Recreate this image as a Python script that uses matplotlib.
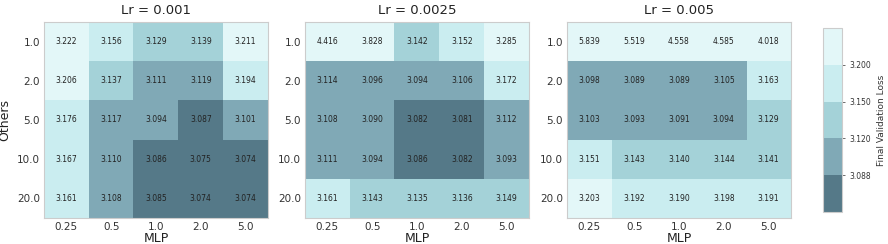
import numpy as np
import matplotlib
matplotlib.use('Agg')
import matplotlib.pyplot as plt
from matplotlib.colors import ListedColormap, BoundaryNorm

mlp_ratios = ['0.25', '0.5', '1.0', '2.0', '5.0']
other_ratios = ['1.0', '2.0', '5.0', '10.0', '20.0']
lrs = ['0.001', '0.0025', '0.005']

loss_lr_0001 = [
    [3.222, 3.156, 3.129, 3.139, 3.211],
    [3.206, 3.137, 3.111, 3.119, 3.194],
    [3.176, 3.117, 3.094, 3.087, 3.101],
    [3.167, 3.110, 3.086, 3.075, 3.074],
    [3.161, 3.108, 3.085, 3.074, 3.074],
]
loss_lr_00025 = [
    [4.416, 3.828, 3.142, 3.152, 3.285],
    [3.114, 3.096, 3.094, 3.106, 3.172],
    [3.108, 3.090, 3.082, 3.081, 3.112],
    [3.111, 3.094, 3.086, 3.082, 3.093],
    [3.161, 3.143, 3.135, 3.136, 3.149],
]
loss_lr_0005 = [
    [5.839, 5.519, 4.558, 4.585, 4.018],
    [3.098, 3.089, 3.089, 3.105, 3.163],
    [3.103, 3.093, 3.091, 3.094, 3.129],
    [3.151, 3.143, 3.140, 3.144, 3.141],
    [3.203, 3.192, 3.190, 3.198, 3.191],
]

levels = [3.088, 3.120, 3.150, 3.200]
colors = ['#557988', '#80a9b6', '#a4d2d8', '#caedf0', '#e3f7f8']


def main():
    cmap = ListedColormap(colors)
    bounds = [3.0] + levels + [6.0]
    norm = BoundaryNorm(bounds, cmap.N)

    fig = plt.figure(figsize=(8.88, 2.44), dpi=100)
    lefts = [44, 305, 567]
    W, H = 888.0, 244.0
    panels = [loss_lr_0001, loss_lr_00025, loss_lr_0005]

    for i, (data, lr) in enumerate(zip(panels, lrs)):
        ax = fig.add_axes([lefts[i]/W, (H-218)/H, 224/W, 196/H])
        vals = np.array(data)
        im = ax.imshow(vals, cmap=cmap, norm=norm, aspect='auto')
        for r in range(vals.shape[0]):
            for c in range(vals.shape[1]):
                ax.text(c, r, '%.3f' % vals[r, c], ha='center', va='center',
                        fontsize=5.5, color='#222222')
        ax.set_xticks(range(len(mlp_ratios)))
        ax.set_xticklabels(mlp_ratios)
        ax.set_yticks(range(len(other_ratios)))
        ax.set_yticklabels(other_ratios)
        ax.tick_params(length=0, labelsize=7.5, pad=3, colors='#333333')
        ax.set_xlabel('MLP', fontsize=9, labelpad=0, color='#222222')
        if i == 0:
            ax.set_ylabel('Others', fontsize=9, color='#222222')
        ax.set_title('Lr = %s' % lr, fontsize=9.5, pad=6, color='#222222')
        for s in ax.spines.values():
            s.set_color('#cccccc')
            s.set_linewidth(0.8)

    cax = fig.add_axes([823/W, (H-212)/H, 19/W, 184/H])
    cb = fig.colorbar(im, cax=cax, boundaries=bounds, spacing='uniform', ticks=levels)
    cb.ax.minorticks_off()
    cb.ax.set_yticklabels(['%.3f' % v for v in levels])
    cb.ax.tick_params(labelsize=5.5, length=2, width=0.5, colors='#333333')
    cb.set_label('Final Validation Loss', fontsize=6.5, color='#333333')
    cb.outline.set_edgecolor('#cccccc')
    cb.outline.set_linewidth(0.8)

    plt.savefig('out.png', dpi=100)


if __name__ == '__main__':
    main()
